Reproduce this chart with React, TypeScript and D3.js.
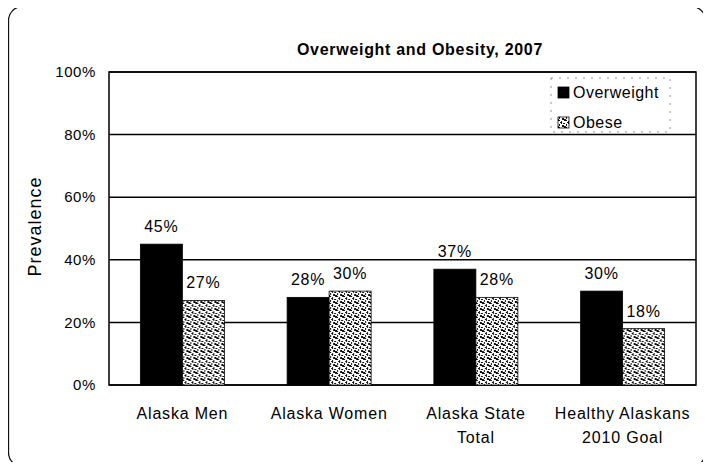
import React, { useEffect, useRef } from "react";
import * as d3 from "d3";

const categories = ["Alaska Men", "Alaska Women", "Alaska State\nTotal", "Healthy Alaskans\n2010 Goal"];
const seriesNames = ["Overweight", "Obese"];
const overweight = [45, 28, 37, 30];
const obese = [27, 30, 28, 18];
const yTicks = [0, 20, 40, 60, 80, 100];

const App = () => {
  const ref = useRef<SVGSVGElement>(null);

  useEffect(() => {
    const width = 711;
    const height = 470;
    const margin = { top: 72, right: 15, bottom: 85, left: 109 };
    const font = "Arial, 'Liberation Sans', sans-serif";

    const svg = d3.select(ref.current).attr("width", width).attr("height", height);
    svg.selectAll("*").remove();

    // speckled fill for the obese series
    const defs = svg.append("defs");
    const pat = defs.append("pattern")
      .attr("id", "speckle")
      .attr("width", 7)
      .attr("height", 7)
      .attr("patternUnits", "userSpaceOnUse");
    pat.append("rect").attr("width", 7).attr("height", 7).attr("fill", "#fff");
    const dots = [[0, 0, 2, 1], [3, 1, 1, 2], [5, 3, 2, 1], [1, 4, 1, 2], [4, 5, 2, 2], [0, 6, 1, 1], [6, 0, 1, 1], [2, 2, 1, 1], [6, 6, 1, 1], [3, 3, 1, 1]];
    dots.forEach(([x, y, w, h]) => {
      pat.append("rect").attr("x", x).attr("y", y).attr("width", w).attr("height", h).attr("fill", "#111");
    });

    // outer frame
    svg.append("rect")
      .attr("x", 8.5).attr("y", 6.5)
      .attr("width", 697).attr("height", 460)
      .attr("rx", 14)
      .attr("fill", "#fff")
      .attr("stroke", "#111")
      .attr("stroke-width", 1.3);

    const innerW = width - margin.left - margin.right;
    const innerH = height - margin.top - margin.bottom;
    const g = svg.append("g").attr("transform", `translate(${margin.left},${margin.top})`);

    const x0 = d3.scaleBand().domain(categories).range([0, innerW]);
    const x1 = d3.scaleBand().domain(seriesNames).range([0, 84]);
    const y = d3.scaleLinear().domain([0, 100]).range([innerH, 0]);

    // gridlines
    g.selectAll(".grid")
      .data(yTicks)
      .join("line")
      .attr("x1", 0).attr("x2", innerW)
      .attr("y1", (d) => y(d)).attr("y2", (d) => y(d))
      .attr("stroke", "#000")
      .attr("stroke-width", 1.5);

    // plot frame
    g.append("rect")
      .attr("width", innerW).attr("height", innerH)
      .attr("fill", "none").attr("stroke", "#000").attr("stroke-width", 1.5);

    // y tick labels
    g.selectAll(".ytick")
      .data(yTicks)
      .join("text")
      .attr("x", -13)
      .attr("y", (d) => y(d))
      .attr("dy", "0.35em")
      .attr("text-anchor", "end")
      .attr("font-family", font)
      .attr("font-size", "15px")
      .attr("letter-spacing", "0.6px")
      .attr("fill", "#000")
      .text((d) => `${d}%`);

    // bars
    const rows = categories.map((c, i) => ({ cat: c, values: [overweight[i], obese[i]] }));
    const groups = g.selectAll(".cat")
      .data(rows)
      .join("g")
      .attr("transform", (d) => `translate(${x0(d.cat)! + x0.bandwidth() / 2 - 42},0)`);

    groups.selectAll("rect")
      .data((d) => d.values.map((v, j) => ({ key: seriesNames[j], v })))
      .join("rect")
      .attr("x", (d) => x1(d.key)!)
      .attr("y", (d) => y(d.v))
      .attr("width", x1.bandwidth())
      .attr("height", (d) => innerH - y(d.v))
      .attr("fill", (d) => (d.key === "Overweight" ? "#000" : "url(#speckle)"))
      .attr("stroke", "#000")
      .attr("stroke-width", 0.8);

    groups.selectAll("text")
      .data((d) => d.values.map((v, j) => ({ key: seriesNames[j], v })))
      .join("text")
      .attr("x", (d) => x1(d.key)! + x1.bandwidth() / 2)
      .attr("y", (d) => y(d.v) - 12)
      .attr("text-anchor", "middle")
      .attr("font-family", font)
      .attr("font-size", "16px")
      .attr("letter-spacing", "0.8px")
      .attr("fill", "#000")
      .text((d) => `${d.v}%`);

    // x labels
    categories.forEach((c) => {
      const t = g.append("text")
        .attr("x", x0(c)! + x0.bandwidth() / 2)
        .attr("y", innerH + 34)
        .attr("text-anchor", "middle")
        .attr("font-family", font)
        .attr("font-size", "16px")
        .attr("letter-spacing", "0.8px")
        .attr("fill", "#000");
      c.split("\n").forEach((line, i) => {
        t.append("tspan")
          .attr("x", x0(c)! + x0.bandwidth() / 2)
          .attr("dy", i === 0 ? 0 : 24)
          .text(line);
      });
    });

    // y axis title
    svg.append("text")
      .attr("transform", `translate(41,${margin.top + innerH / 2 - 2}) rotate(-90)`)
      .attr("text-anchor", "middle")
      .attr("font-family", font)
      .attr("font-size", "18px")
      .attr("letter-spacing", "1px")
      .attr("fill", "#000")
      .text("Prevalence");

    // title
    svg.append("text")
      .attr("x", 420)
      .attr("y", 55)
      .attr("text-anchor", "middle")
      .attr("font-family", font)
      .attr("font-size", "16px")
      .attr("font-weight", "bold")
      .attr("letter-spacing", "0.7px")
      .attr("fill", "#000")
      .text("Overweight and Obesity, 2007");

    // legend
    const lg = svg.append("g").attr("transform", "translate(551,78)");
    lg.append("rect")
      .attr("width", 119).attr("height", 54)
      .attr("fill", "#fff")
      .attr("stroke", "#777")
      .attr("stroke-width", 0.8)
      .attr("stroke-dasharray", "2,6");
    seriesNames.forEach((s, i) => {
      lg.append("rect")
        .attr("x", 7).attr("y", 9 + i * 30)
        .attr("width", 11).attr("height", 11)
        .attr("fill", i === 0 ? "#000" : "url(#speckle)")
        .attr("stroke", "#000").attr("stroke-width", 0.8);
      lg.append("text")
        .attr("x", 22).attr("y", 20 + i * 30)
        .attr("font-family", font)
        .attr("font-size", "16px")
        .attr("letter-spacing", "0.5px")
        .attr("fill", "#000")
        .text(s);
    });
  }, []);

  return <svg ref={ref} style={{ display: "block", margin: -8 }}></svg>;
};

export default App;
